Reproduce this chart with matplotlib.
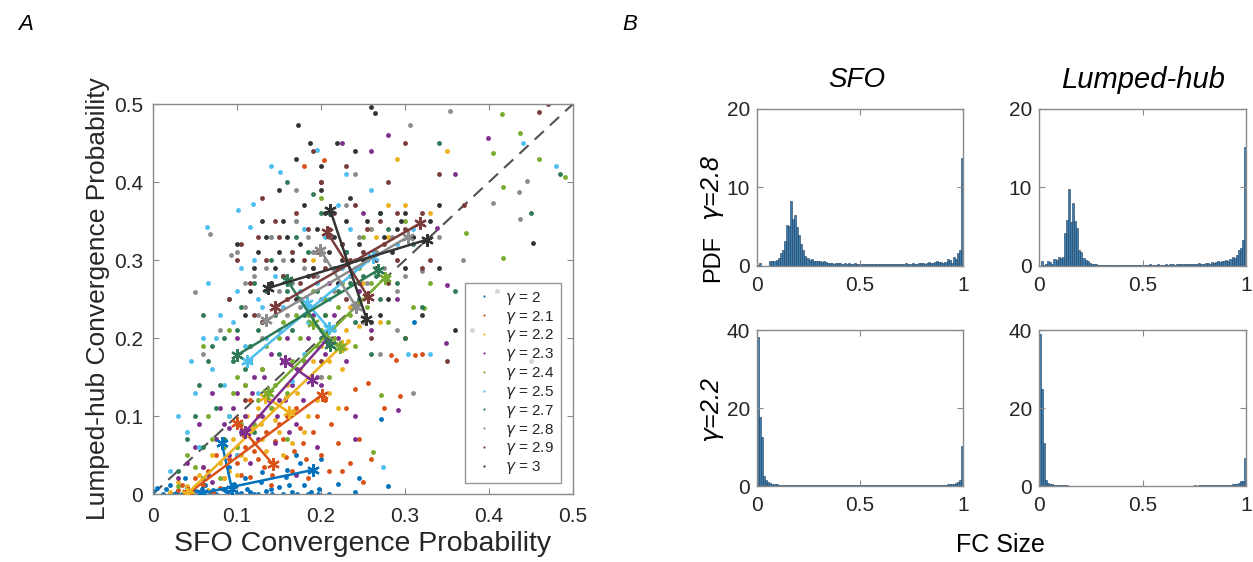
import matplotlib
matplotlib.use("Agg")
import matplotlib.pyplot as plt
import numpy as np

plt.rcParams["font.family"] = ["Liberation Sans", "DejaVu Sans"]
plt.rcParams["mathtext.fontset"] = "dejavusans"

# ---- panel A data: per-gamma points (SFO prob, lumped-hub prob) ----
gammas = ["2", "2.1", "2.2", "2.3", "2.4", "2.5", "2.7", "2.8", "2.9", "3"]
colors = ["#0072BD", "#D95319", "#EDB120", "#7E2F8E", "#77AC30",
          "#4DBEEE", "#2E7A55", "#8C8C8C", "#7A3B3B", "#333333"]

pts_x = [
    [0.005, 0.012, 0.02, 0.028, 0.035, 0.041, 0.05, 0.055, 0.062, 0.068, 0.075, 0.083, 0.09, 0.097,
     0.105, 0.112, 0.12, 0.128, 0.135, 0.142, 0.15, 0.158, 0.165, 0.172, 0.18, 0.188, 0.196, 0.13,
     0.09, 0.06, 0.175, 0.22, 0.245, 0.272, 0.311, 0.17, 0.11, 0.038],
    [0.03, 0.045, 0.06, 0.072, 0.085, 0.095, 0.1, 0.108, 0.115, 0.12, 0.125, 0.132, 0.14, 0.145,
     0.15, 0.158, 0.165, 0.17, 0.178, 0.185, 0.19, 0.2, 0.205, 0.21, 0.22, 0.235, 0.25, 0.283,
     0.289, 0.312, 0.256, 0.294, 0.203, 0.18, 0.24, 0.115, 0.075],
    [0.02, 0.04, 0.055, 0.065, 0.08, 0.09, 0.1, 0.11, 0.118, 0.125, 0.13, 0.138, 0.145, 0.15,
     0.155, 0.16, 0.168, 0.175, 0.18, 0.188, 0.195, 0.2, 0.21, 0.22, 0.23, 0.24, 0.26, 0.27,
     0.28, 0.3, 0.33, 0.35, 0.29, 0.19, 0.232, 0.1],
    [0.03, 0.05, 0.06, 0.07, 0.08, 0.09, 0.1, 0.105, 0.115, 0.12, 0.13, 0.14, 0.145, 0.15,
     0.16, 0.165, 0.17, 0.18, 0.19, 0.195, 0.2, 0.21, 0.22, 0.23, 0.24, 0.25, 0.26, 0.28,
     0.338, 0.399, 0.36, 0.35, 0.349, 0.292, 0.225, 0.2, 0.157, 0.17, 0.09],
    [0.03, 0.05, 0.07, 0.08, 0.09, 0.1, 0.11, 0.12, 0.13, 0.14, 0.15, 0.16, 0.17, 0.18,
     0.19, 0.2, 0.21, 0.22, 0.23, 0.24, 0.25, 0.26, 0.27, 0.28, 0.415, 0.437, 0.405, 0.417,
     0.417, 0.373, 0.49, 0.46, 0.262, 0.272, 0.323, 0.2, 0.16],
    [0.02, 0.04, 0.05, 0.06, 0.07, 0.08, 0.09, 0.1, 0.11, 0.12, 0.125, 0.13, 0.14, 0.15,
     0.16, 0.17, 0.18, 0.19, 0.195, 0.21, 0.22, 0.23, 0.24, 0.26, 0.274, 0.303, 0.31, 0.33,
     0.064, 0.101, 0.119, 0.115, 0.151, 0.44, 0.48, 0.165],
    [0.03, 0.05, 0.06, 0.07, 0.08, 0.09, 0.1, 0.11, 0.12, 0.13, 0.14, 0.15, 0.16, 0.17,
     0.18, 0.19, 0.2, 0.21, 0.22, 0.23, 0.24, 0.25, 0.26, 0.27, 0.28, 0.3, 0.32, 0.36,
     0.45, 0.34, 0.485, 0.12, 0.06, 0.19],
    [0.05, 0.068, 0.093, 0.08, 0.1, 0.11, 0.12, 0.13, 0.14, 0.15, 0.16, 0.17, 0.18, 0.19,
     0.2, 0.21, 0.22, 0.23, 0.24, 0.25, 0.26, 0.27, 0.29, 0.306, 0.353, 0.405, 0.436, 0.445,
     0.437, 0.32, 0.369, 0.31, 0.2],
    [0.12, 0.1, 0.13, 0.14, 0.15, 0.16, 0.17, 0.18, 0.19, 0.2, 0.21, 0.22, 0.23, 0.24,
     0.25, 0.26, 0.27, 0.28, 0.29, 0.3, 0.31, 0.32, 0.34, 0.35, 0.37, 0.46, 0.47, 0.11,
     0.2, 0.23],
    [0.12, 0.13, 0.14, 0.15, 0.16, 0.17, 0.18, 0.19, 0.2, 0.21, 0.22, 0.23, 0.24, 0.25,
     0.26, 0.27, 0.28, 0.29, 0.3, 0.32, 0.33, 0.34, 0.36, 0.38, 0.41, 0.452, 0.45, 0.173,
     0.187, 0.219, 0.259, 0.264, 0.11, 0.3],
]
pts_y = [
    [0.008, 0.0, 0.012, 0.003, 0.0, 0.009, 0.004, 0.0, 0.011, 0.002, 0.0, 0.007, 0.0, 0.013,
     0.001, 0.006, 0.0, 0.015, 0.004, 0.0, 0.009, 0.022, 0.002, 0.0, 0.011, 0.003, 0.0, 0.028,
     0.035, 0.02, 0.04, 0.013, 0.02, 0.096, 0.22, 0.05, 0.02, 0.02],
    [0.005, 0.0, 0.012, 0.003, 0.02, 0.009, 0.04, 0.075, 0.022, 0.055, 0.1, 0.035, 0.012, 0.068,
     0.09, 0.048, 0.03, 0.11, 0.065, 0.02, 0.08, 0.05, 0.12, 0.03, 0.065, 0.04, 0.015, 0.178,
     0.172, 0.178, 0.142, 0.126, 0.428, 0.42, 0.135, 0.12, 0.05],
    [0.002, 0.01, 0.025, 0.005, 0.04, 0.03, 0.06, 0.045, 0.085, 0.11, 0.07, 0.13, 0.095, 0.12,
     0.05, 0.14, 0.105, 0.16, 0.08, 0.15, 0.12, 0.19, 0.17, 0.11, 0.21, 0.3, 0.34, 0.22,
     0.33, 0.37, 0.36, 0.44, 0.43, 0.3, 0.196, 0.025],
    [0.02, 0.06, 0.035, 0.015, 0.11, 0.05, 0.13, 0.08, 0.04, 0.15, 0.1, 0.18, 0.065, 0.12,
     0.2, 0.14, 0.09, 0.17, 0.23, 0.06, 0.14, 0.27, 0.2, 0.31, 0.1, 0.36, 0.44, 0.46,
     0.341, 0.456, 0.41, 0.268, 0.194, 0.108, 0.45, 0.4, 0.12, 0.025, 0.085],
    [0.01, 0.035, 0.07, 0.02, 0.1, 0.06, 0.14, 0.09, 0.16, 0.11, 0.2, 0.13, 0.23, 0.17,
     0.26, 0.21, 0.15, 0.24, 0.3, 0.19, 0.33, 0.27, 0.36, 0.22, 0.487, 0.463, 0.437, 0.394,
     0.302, 0.335, 0.407, 0.43, 0.054, 0.127, 0.238, 0.38, 0.07],
    [0.03, 0.08, 0.13, 0.2, 0.16, 0.23, 0.1, 0.26, 0.19, 0.3, 0.13, 0.24, 0.33, 0.21,
     0.27, 0.35, 0.18, 0.31, 0.441, 0.25, 0.37, 0.41, 0.29, 0.39, 0.035, 0.179, 0.34, 0.18,
     0.342, 0.364, 0.372, 0.342, 0.413, 0.45, 0.42, 0.145],
    [0.03, 0.1, 0.06, 0.19, 0.14, 0.25, 0.21, 0.16, 0.27, 0.22, 0.3, 0.18, 0.26, 0.33,
     0.23, 0.29, 0.2, 0.36, 0.26, 0.31, 0.22, 0.28, 0.18, 0.25, 0.34, 0.2, 0.24, 0.26,
     0.36, 0.45, 0.41, 0.08, 0.23, 0.385],
    [0.259, 0.333, 0.307, 0.21, 0.31, 0.24, 0.28, 0.2, 0.33, 0.26, 0.23, 0.35, 0.29, 0.31,
     0.25, 0.33, 0.27, 0.37, 0.3, 0.22, 0.34, 0.18, 0.26, 0.473, 0.491, 0.373, 0.387, 0.401,
     0.353, 0.286, 0.3, 0.13, 0.15],
    [0.23, 0.3, 0.38, 0.27, 0.33, 0.25, 0.36, 0.3, 0.28, 0.4, 0.34, 0.29, 0.25, 0.37,
     0.31, 0.2, 0.35, 0.27, 0.36, 0.45, 0.33, 0.29, 0.41, 0.17, 0.37, 0.49, 0.5, 0.12,
     0.17, 0.42],
    [0.29, 0.35, 0.27, 0.31, 0.33, 0.25, 0.37, 0.29, 0.39, 0.31, 0.27, 0.35, 0.44, 0.3,
     0.22, 0.36, 0.25, 0.34, 0.29, 0.23, 0.35, 0.37, 0.21, 0.21, 0.26, 0.322, 0.17, 0.473,
     0.45, 0.45, 0.496, 0.488, 0.23, 0.36],
]

# denser core of each cloud
more_x = [
    [0.0, 0.015, 0.025, 0.045, 0.058, 0.072, 0.087, 0.1, 0.116, 0.125, 0.14, 0.155, 0.162, 0.185,
     0.198, 0.21, 0.16, 0.2, 0.24, 0.28],
    [0.02, 0.035, 0.05, 0.065, 0.08, 0.09, 0.105, 0.11, 0.125, 0.135, 0.142, 0.155, 0.16, 0.168,
     0.175, 0.182, 0.195, 0.212, 0.225, 0.23, 0.245, 0.26, 0.275, 0.3, 0.32, 0.11, 0.13],
    [0.03, 0.048, 0.06, 0.07, 0.085, 0.095, 0.105, 0.112, 0.12, 0.128, 0.135, 0.142, 0.15, 0.158,
     0.165, 0.172, 0.185, 0.19, 0.2, 0.205, 0.215, 0.225, 0.235, 0.25, 0.265, 0.28, 0.21, 0.245],
    [0.04, 0.055, 0.065, 0.075, 0.085, 0.095, 0.1, 0.11, 0.118, 0.125, 0.132, 0.138, 0.148, 0.155,
     0.162, 0.172, 0.178, 0.185, 0.195, 0.205, 0.215, 0.23, 0.245, 0.26, 0.29, 0.07, 0.1, 0.24],
    [0.04, 0.06, 0.065, 0.085, 0.095, 0.105, 0.115, 0.125, 0.135, 0.145, 0.155, 0.165, 0.175, 0.185,
     0.195, 0.205, 0.215, 0.225, 0.235, 0.245, 0.255, 0.265, 0.28, 0.3, 0.31, 0.06, 0.09, 0.1,
     0.33],
    [0.03, 0.045, 0.055, 0.065, 0.075, 0.085, 0.095, 0.105, 0.115, 0.125, 0.135, 0.145, 0.155,
     0.165, 0.175, 0.185, 0.195, 0.205, 0.215, 0.225, 0.235, 0.25, 0.27, 0.29, 0.1, 0.14, 0.18],
    [0.04, 0.055, 0.065, 0.075, 0.085, 0.095, 0.105, 0.115, 0.125, 0.135, 0.145, 0.155, 0.165,
     0.175, 0.185, 0.195, 0.205, 0.215, 0.225, 0.235, 0.245, 0.255, 0.265, 0.29, 0.31, 0.16, 0.2,
     0.085],
    [0.11, 0.125, 0.135, 0.145, 0.155, 0.165, 0.175, 0.185, 0.195, 0.205, 0.215, 0.225, 0.235,
     0.245, 0.255, 0.265, 0.275, 0.285, 0.3, 0.34, 0.06, 0.17, 0.24, 0.29],
    [0.09, 0.105, 0.115, 0.125, 0.135, 0.145, 0.155, 0.165, 0.175, 0.185, 0.195, 0.205, 0.215,
     0.225, 0.235, 0.245, 0.255, 0.265, 0.275, 0.29, 0.3, 0.32, 0.33, 0.13, 0.19, 0.28],
    [0.1, 0.115, 0.125, 0.135, 0.145, 0.155, 0.165, 0.175, 0.185, 0.195, 0.205, 0.215, 0.225,
     0.235, 0.245, 0.255, 0.265, 0.275, 0.285, 0.295, 0.31, 0.34, 0.2, 0.15, 0.17, 0.27],
]
more_y = [
    [0.004, 0.006, 0.0, 0.002, 0.007, 0.005, 0.004, 0.0, 0.002, 0.0, 0.007, 0.0, 0.012, 0.0,
     0.006, 0.0, 0.031, 0.045, 0.002, 0.01],
    [0.0, 0.012, 0.02, 0.03, 0.008, 0.045, 0.025, 0.06, 0.045, 0.08, 0.025, 0.07, 0.1, 0.055,
     0.085, 0.045, 0.1, 0.09, 0.03, 0.11, 0.07, 0.045, 0.11, 0.2, 0.18, 0.14, 0.16],
    [0.015, 0.0, 0.035, 0.05, 0.02, 0.07, 0.05, 0.1, 0.065, 0.09, 0.055, 0.11, 0.08, 0.125,
     0.065, 0.13, 0.1, 0.17, 0.15, 0.23, 0.2, 0.16, 0.24, 0.27, 0.33, 0.37, 0.13, 0.215],
    [0.04, 0.09, 0.025, 0.07, 0.09, 0.11, 0.05, 0.1, 0.13, 0.07, 0.15, 0.12, 0.1, 0.17,
     0.08, 0.16, 0.12, 0.2, 0.15, 0.18, 0.23, 0.17, 0.26, 0.21, 0.25, 0.13, 0.2, 0.07],
    [0.05, 0.02, 0.1, 0.06, 0.13, 0.09, 0.17, 0.12, 0.19, 0.14, 0.22, 0.17, 0.2, 0.23,
     0.19, 0.25, 0.2, 0.27, 0.23, 0.29, 0.24, 0.31, 0.28, 0.35, 0.24, 0.19, 0.21, 0.15,
     0.27],
    [0.1, 0.17, 0.06, 0.27, 0.2, 0.14, 0.22, 0.29, 0.17, 0.25, 0.2, 0.28, 0.24, 0.31,
     0.26, 0.22, 0.27, 0.33, 0.21, 0.29, 0.34, 0.31, 0.36, 0.32, 0.05, 0.42, 0.34],
    [0.07, 0.14, 0.17, 0.11, 0.2, 0.17, 0.24, 0.19, 0.21, 0.26, 0.23, 0.28, 0.21, 0.25,
     0.31, 0.26, 0.23, 0.29, 0.32, 0.27, 0.25, 0.3, 0.28, 0.27, 0.32, 0.4, 0.36, 0.07],
    [0.27, 0.23, 0.29, 0.24, 0.3, 0.27, 0.24, 0.33, 0.28, 0.3, 0.26, 0.32, 0.28, 0.33,
     0.27, 0.31, 0.29, 0.33, 0.28, 0.33, 0.18, 0.39, 0.41, 0.21],
    [0.25, 0.32, 0.27, 0.33, 0.3, 0.35, 0.28, 0.31, 0.27, 0.34, 0.31, 0.29, 0.36, 0.32,
     0.3, 0.27, 0.34, 0.3, 0.32, 0.3, 0.34, 0.36, 0.3, 0.22, 0.44, 0.4],
    [0.32, 0.26, 0.31, 0.33, 0.29, 0.35, 0.3, 0.32, 0.28, 0.34, 0.36, 0.33, 0.3, 0.38,
     0.32, 0.35, 0.29, 0.33, 0.31, 0.35, 0.33, 0.29, 0.42, 0.39, 0.43, 0.23],
]

# two crossing segments per gamma: (x0, y0, x1, y1)
seg_a = [(0.058, 0.001, 0.191, 0.031), (0.042, 0.001, 0.201, 0.127),
         (0.04, 0.0, 0.225, 0.19), (0.11, 0.08, 0.207, 0.198),
         (0.137, 0.129, 0.276, 0.277), (0.112, 0.17, 0.262, 0.304),
         (0.1, 0.178, 0.268, 0.287), (0.135, 0.223, 0.304, 0.33),
         (0.145, 0.24, 0.318, 0.347), (0.137, 0.264, 0.326, 0.326)]
seg_b = [(0.082, 0.065, 0.094, 0.006), (0.1, 0.091, 0.143, 0.038),
         (0.133, 0.125, 0.162, 0.105), (0.157, 0.17, 0.189, 0.146),
         (0.19, 0.219, 0.223, 0.189), (0.183, 0.245, 0.209, 0.213),
         (0.159, 0.275, 0.211, 0.191), (0.199, 0.313, 0.242, 0.24),
         (0.207, 0.336, 0.256, 0.253), (0.211, 0.364, 0.254, 0.225)]

# ---- panel B data: PDF of FC size, 100 bins on [0, 1] ----
sfo_28 = [0.1, 0.4, 0, 0, 0, 0, 0.7, 0.7, 0.7, 0.8,
          1.0, 1.6, 2.0, 3.2, 5.2, 5.1, 8.3, 6.0, 6.5, 5.0,
          4.0, 2.8, 2.0, 1.3, 1.0, 0.8, 0.9, 0.7, 0.6, 0.7,
          0.6, 0.5, 0.6, 0.5, 0.4, 0.4, 0.4, 0.3, 0.4, 0.4,
          0.4, 0.3, 0.4, 0.3, 0.4, 0.3, 0.3, 0.4, 0.3, 0.3,
          0.3, 0.2, 0.2, 0.3, 0.2, 0.3, 0.2, 0.3, 0.3, 0.2,
          0.3, 0.2, 0.3, 0.2, 0.2, 0.3, 0.3, 0.2, 0.3, 0.3,
          0.3, 0.3, 0.4, 0.3, 0.3, 0.4, 0.3, 0.3, 0.4, 0.4,
          0.4, 0.3, 0.4, 0.5, 0.4, 0.4, 0.5, 0.6, 0.5, 0.5,
          0.4, 0.5, 0.9, 0.8, 0.4, 1.1, 0.9, 1.6, 2.1, 13.7]
hub_28 = [0, 0.6, 0.1, 0.3, 0.6, 0.5, 0.3, 0.9, 0.8, 1.1,
          1.0, 1.1, 4.2, 5.9, 9.8, 5.6, 8.0, 5.7, 4.9, 2.0,
          1.8, 1.0, 0.8, 0.6, 0.4, 0.3, 0.2, 0.2, 0.1, 0.1,
          0.1, 0.1, 0.1, 0.1, 0.1, 0.1, 0.1, 0.1, 0.1, 0.1,
          0.1, 0.1, 0.1, 0.1, 0.1, 0.1, 0.1, 0.1, 0.1, 0.1,
          0.1, 0.1, 0.1, 0.2, 0.1, 0.1, 0.1, 0.2, 0.1, 0.1,
          0.1, 0.2, 0.1, 0.2, 0.2, 0.1, 0.2, 0.2, 0.2, 0.3,
          0.2, 0.2, 0.3, 0.3, 0.2, 0.3, 0.3, 0.4, 0.3, 0.3,
          0.4, 0.4, 0.3, 0.5, 0.4, 0.5, 0.6, 0.5, 0.7, 0.6,
          0.8, 0.7, 0.9, 1.1, 1.0, 1.4, 2.0, 2.3, 3.3, 15.2]
sfo_22 = [38.3, 17.8, 12.5, 2.5, 1.5, 1.0, 0.8, 0.6, 0.5, 0.4,
          0.35, 0.3, 0.3, 0.25, 0.25, 0.2, 0.2, 0.2, 0.2, 0.2,
          0.2, 0.2, 0.2, 0.2, 0.2, 0.2, 0.2, 0.2, 0.2, 0.2,
          0.2, 0.2, 0.2, 0.2, 0.2, 0.2, 0.2, 0.2, 0.2, 0.2,
          0.2, 0.2, 0.2, 0.2, 0.2, 0.2, 0.2, 0.2, 0.2, 0.2,
          0.2, 0.2, 0.2, 0.2, 0.2, 0.2, 0.2, 0.2, 0.2, 0.2,
          0.2, 0.2, 0.2, 0.2, 0.2, 0.2, 0.2, 0.2, 0.2, 0.2,
          0.2, 0.2, 0.2, 0.2, 0.2, 0.2, 0.2, 0.2, 0.2, 0.2,
          0.2, 0.2, 0.2, 0.2, 0.25, 0.25, 0.25, 0.3, 0.3, 0.3,
          0.3, 0.3, 0.4, 0.4, 0.5, 0.6, 0.8, 1.0, 1.5, 10.3]
hub_22 = [39.0, 25.0, 11.0, 1.5, 0.8, 0.5, 0.4, 0.3, 0.3, 0.2,
          0.2, 0.15, 0.15, 0.15, 0.1, 0.1, 0.1, 0.1, 0.1, 0.1,
          0.1, 0.1, 0.1, 0.1, 0.1, 0.1, 0.1, 0.1, 0.1, 0.1,
          0.1, 0.1, 0.1, 0.1, 0.1, 0.1, 0.1, 0.1, 0.1, 0.1,
          0.1, 0.1, 0.1, 0.1, 0.1, 0.1, 0.1, 0.1, 0.1, 0.1,
          0.1, 0.1, 0.1, 0.1, 0.1, 0.1, 0.1, 0.1, 0.1, 0.1,
          0.1, 0.1, 0.1, 0.1, 0.1, 0.1, 0.1, 0.1, 0.1, 0.1,
          0.1, 0.1, 0.1, 0.1, 0.1, 0.15, 0.1, 0.15, 0.15, 0.15,
          0.15, 0.15, 0.15, 0.2, 0.2, 0.2, 0.2, 0.2, 0.2, 0.2,
          0.2, 0.3, 0.3, 0.4, 0.5, 0.6, 0.8, 1.2, 1.4, 7.1]

W, H = 1253, 562
SPINE = "#8a8a8a"
TICK_FS = 15
ASTERISK = (6, 2, 0)


def px_axes(fig, left, top, right, bottom):
    return fig.add_axes([left / W, 1 - bottom / H, (right - left) / W, (bottom - top) / H])


def matlab_style(ax):
    for s in ax.spines.values():
        s.set_color(SPINE)
        s.set_linewidth(1.0)
    ax.tick_params(direction="in", top=True, right=True, length=4, width=0.8,
                   color=SPINE, labelsize=TICK_FS, labelcolor="#262626", pad=5)


fig = plt.figure(figsize=(W / 100, H / 100), dpi=100)

# ---- panel A ----
ax = px_axes(fig, 153, 104, 573, 494)
ax.plot([0, 0.5], [0, 0.5], ls=(0, (6, 4)), color="#505050", lw=1.5, zorder=1)
for i, g in enumerate(gammas):
    xs = pts_x[i] + more_x[i]
    ys = pts_y[i] + more_y[i]
    ax.plot(xs, ys, "o", ms=3.5, mec="none", color=colors[i],
            label=r"$\gamma$ = " + g, zorder=2)
for i, g in enumerate(gammas):
    for seg in (seg_a[i], seg_b[i]):
        ax.plot([seg[0], seg[2]], [seg[1], seg[3]], "-", marker=ASTERISK, color=colors[i],
                lw=1.8, ms=9, mew=1.6, zorder=3)
ax.set_xlim(0, 0.5)
ax.set_ylim(0, 0.5)
ticks = [0, 0.1, 0.2, 0.3, 0.4, 0.5]
ax.set_xticks(ticks)
ax.set_yticks(ticks)
ax.set_xticklabels(["0", "0.1", "0.2", "0.3", "0.4", "0.5"])
ax.set_yticklabels(["0", "0.1", "0.2", "0.3", "0.4", "0.5"])
matlab_style(ax)
ax.tick_params(axis="x", pad=9)
ax.tick_params(axis="y", pad=7)
ax.set_xlabel("SFO Convergence Probability", fontsize=20.5, color="#262626", labelpad=4)
ax.set_ylabel("Lumped-hub Convergence Probability", fontsize=19, color="#262626", labelpad=3)
leg = ax.legend(loc="lower right", bbox_to_anchor=(0.972, 0.028), fontsize=11,
                markerscale=0.45, handlelength=1.6, labelspacing=0.12, fancybox=False,
                borderpad=0.45, handletextpad=0.6, borderaxespad=0)
leg.get_frame().set_edgecolor("#7f7f7f")
leg.get_frame().set_linewidth(1.0)
for t in leg.get_texts():
    t.set_color("#262626")

# ---- panel B ----
edges = np.linspace(0, 1, 101)
hist_specs = [
    (sfo_28, (757, 109, 963, 266), [0, 10, 20], 20),
    (hub_28, (1039, 109, 1246, 266), [0, 10, 20], 20),
    (sfo_22, (757, 330, 963, 486), [0, 20, 40], 40),
    (hub_22, (1039, 330, 1246, 486), [0, 20, 40], 40),
]
for vals, box, yt, ytop in hist_specs:
    hx = px_axes(fig, *box)
    hx.bar(edges[:-1], vals, width=0.01, align="edge", color="#3D7DB0",
           edgecolor="#1f3f5a", linewidth=0.4)
    hx.set_xlim(0, 1)
    hx.set_ylim(0, ytop)
    hx.set_xticks([0, 0.5, 1])
    hx.set_xticklabels(["0", "0.5", "1"])
    hx.set_yticks(yt)
    matlab_style(hx)
    hx.tick_params(axis="x", pad=7)

fig.text(18 / W, 1 - 25 / H, "A", fontsize=16, style="italic", va="center")
fig.text(622 / W, 1 - 25 / H, "B", fontsize=16, style="italic", va="center")
fig.text(857 / W, 1 - 80 / H, "SFO", fontsize=20, style="italic", ha="center", va="center")
fig.text(1143 / W, 1 - 80 / H, "Lumped-hub", fontsize=21, style="italic", ha="center", va="center")
fig.text(713 / W, 1 - 188 / H, r"$\gamma$=2.8", fontsize=18, style="italic", rotation=90,
         ha="center", va="center")
fig.text(713 / W, 1 - 258 / H, "PDF", fontsize=17, rotation=90, ha="center", va="center")
fig.text(713 / W, 1 - 410 / H, r"$\gamma$=2.2", fontsize=18, style="italic", rotation=90,
         ha="center", va="center")
fig.text(1000 / W, 1 - 545 / H, "FC Size", fontsize=18, ha="center", va="center")

fig.savefig("out.png", dpi=100)
